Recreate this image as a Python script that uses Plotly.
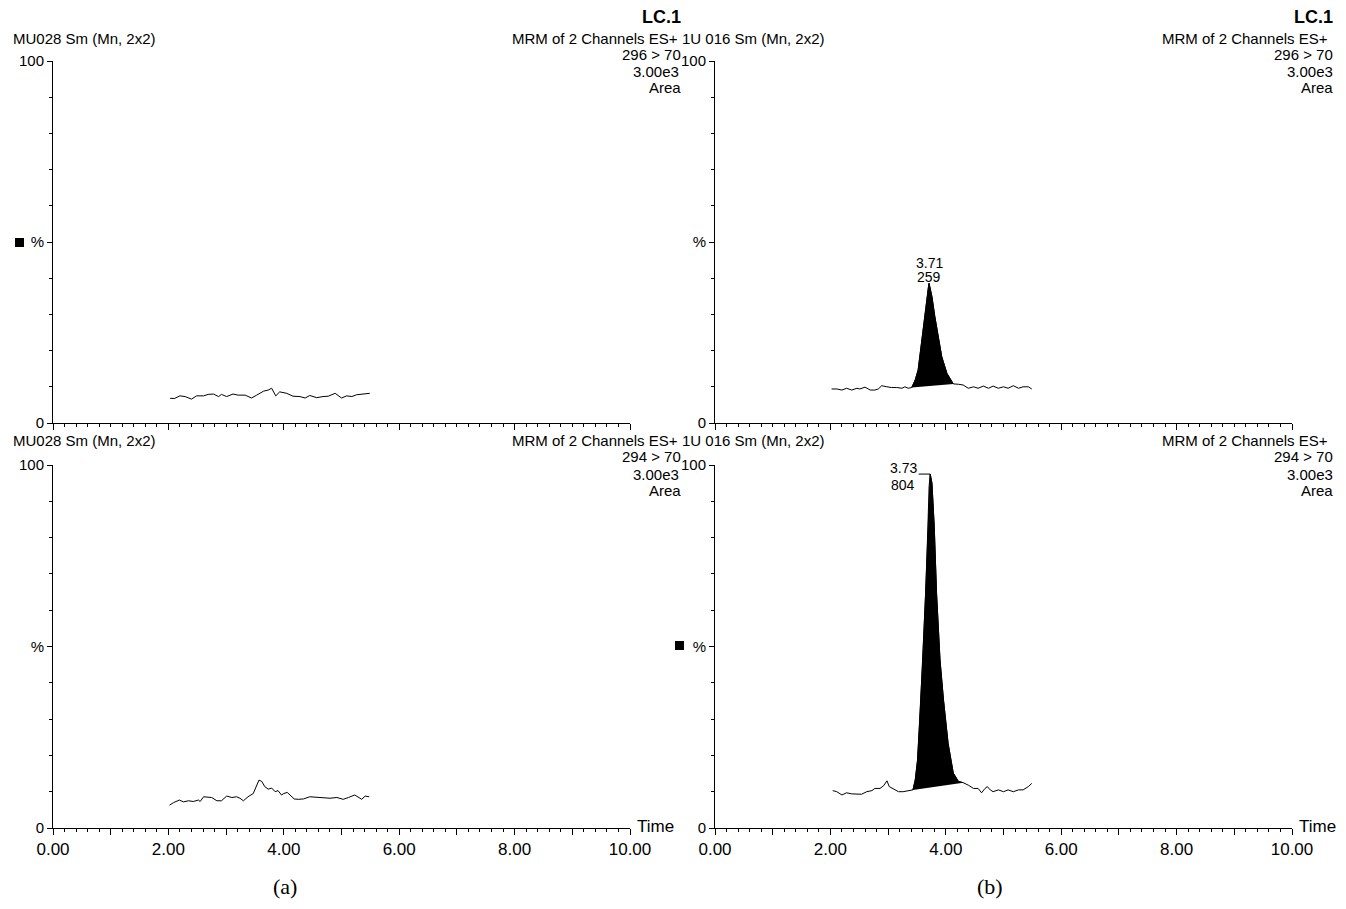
import plotly.graph_objects as go

# the page body adds an 8px margin; the figure is sized so the page does not overflow
OFF = 8
W, H = 1346 - OFF, 909 - 2 * OFF

# ---------------- data ----------------
# (a) top: MU028, 296 > 70
a_top_t = [2.03, 2.11, 2.20, 2.29, 2.40, 2.49, 2.61, 2.69, 2.78, 2.87, 2.92, 3.01, 3.12, 3.21,
           3.33, 3.44, 3.53, 3.65, 3.73, 3.79, 3.86, 3.93, 4.05, 4.16, 4.28, 4.37, 4.45, 4.57,
           4.68, 4.77, 4.89, 5.00, 5.09, 5.18, 5.26, 5.38, 5.49]
a_top_v = [6.8, 6.8, 7.5, 7.3, 6.6, 7.5, 7.5, 7.9, 8.0, 7.3, 7.9, 7.3, 8.0, 7.7,
           7.7, 6.9, 7.7, 8.8, 9.1, 9.6, 7.5, 8.6, 8.2, 7.4, 7.3, 6.9, 7.6, 7.0,
           7.3, 7.4, 8.2, 6.9, 7.5, 7.3, 7.8, 7.9, 8.2]

# (a) bottom: MU028, 294 > 70
a_bot_t = [2.02, 2.09, 2.19, 2.26, 2.35, 2.43, 2.52, 2.55, 2.61, 2.69, 2.75, 2.84, 2.92, 3.01,
           3.10, 3.18, 3.24, 3.30, 3.38, 3.47, 3.53, 3.57, 3.62, 3.67, 3.73, 3.79, 3.85, 3.90,
           3.96, 4.00, 4.06, 4.11, 4.18, 4.25, 4.34, 4.45, 4.57, 4.68, 4.80, 4.92, 5.03, 5.12,
           5.23, 5.32, 5.35, 5.41, 5.48]
a_bot_v = [6.3, 7.0, 7.7, 7.2, 7.5, 7.3, 7.7, 7.3, 8.6, 8.6, 8.4, 7.5, 7.5, 8.8,
           8.4, 8.6, 8.2, 7.5, 8.6, 9.5, 11.8, 13.2, 12.8, 11.4, 10.7, 11.0, 10.0, 10.3,
           9.1, 9.5, 9.8, 9.1, 8.0, 7.9, 8.0, 8.6, 8.4, 8.4, 8.2, 8.4, 7.9, 8.4,
           9.1, 8.2, 7.9, 8.8, 8.6]

# (b) top: 1U 016, 296 > 70
b_top_t = [2.02, 2.11, 2.20, 2.28, 2.37, 2.46, 2.51, 2.60, 2.69, 2.77, 2.83, 2.89, 2.98, 3.06,
           3.15, 3.24, 3.29, 3.35, 3.41, 3.47, 3.52, 3.58, 3.64, 3.70, 3.71, 3.76, 3.81, 3.87,
           3.93, 4.02, 4.13, 4.22, 4.30, 4.39, 4.48, 4.56, 4.65, 4.74, 4.82, 4.91, 5.00, 5.08,
           5.17, 5.26, 5.34, 5.43, 5.49]
b_top_v = [9.4, 9.4, 9.1, 9.6, 9.1, 9.6, 9.4, 9.9, 9.1, 9.1, 9.4, 10.3, 10.0, 9.8,
           9.8, 9.6, 10.0, 9.6, 9.8, 11.9, 14.6, 22.9, 30.3, 37.7, 38.6, 34.9, 29.4, 23.8,
           18.3, 13.7, 10.8, 10.7, 10.5, 9.6, 10.0, 9.6, 10.2, 9.6, 10.2, 9.6, 10.0, 9.6,
           10.3, 9.6, 10.0, 10.0, 9.4]
b_top_peak = (3.41, 4.13)
b_top_label = ("3.71", "259")

# (b) bottom: 1U 016, 294 > 70
b_bot_t = [2.04, 2.11, 2.20, 2.28, 2.37, 2.46, 2.54, 2.63, 2.72, 2.77, 2.86, 2.92, 2.98, 3.02,
           3.09, 3.18, 3.26, 3.35, 3.43, 3.47, 3.51, 3.55, 3.60, 3.65, 3.69, 3.71, 3.73, 3.76,
           3.80, 3.84, 3.90, 3.96, 4.04, 4.13, 4.22, 4.30, 4.39, 4.48, 4.56, 4.62, 4.68, 4.72,
           4.77, 4.82, 4.91, 5.00, 5.08, 5.17, 5.26, 5.34, 5.43, 5.49]
b_bot_v = [10.3, 10.0, 9.1, 9.7, 9.4, 9.3, 9.3, 10.0, 10.3, 10.9, 10.9, 11.6, 13.0, 11.4,
           10.7, 10.0, 10.0, 10.3, 10.5, 13.2, 18.7, 29.8, 46.3, 64.6, 83.0, 94.0, 97.5, 95.0,
           83.0, 64.6, 46.3, 35.3, 23.3, 15.1, 12.8, 12.5, 11.8, 10.9, 10.9, 9.7, 10.9, 11.4,
           10.5, 10.0, 10.5, 10.0, 10.5, 10.0, 10.5, 10.5, 11.4, 12.3]
b_bot_peak = (3.43, 4.30)
b_bot_label = ("3.73", "804")

x_tick_vals = [0, 1, 2, 3, 4, 5, 6, 7, 8, 9, 10]
x_tick_text = ["0.00", "", "2.00", "", "4.00", "", "6.00", "", "8.00", "", "10.00"]
y_tick_vals = [0, 50, 100]
y_tick_text = ["0", "%", "100"]

# ---------------- figure ----------------
FONT = "Liberation Sans, Arial, sans-serif"
SERIF = "Liberation Serif, Times New Roman, serif"
fig = go.Figure()

def add_trace(t, v, ax, peak=None):
    xa, ya = ("x" + ax, "y" + ax) if ax != "1" else ("x", "y")
    if peak is not None:
        pt = [ti for ti in t if peak[0] <= ti <= peak[1]]
        pv = [vi for ti, vi in zip(t, v) if peak[0] <= ti <= peak[1]]
        fig.add_trace(go.Scatter(x=pt, y=pv, mode="lines", fill="toself",
                                 fillcolor="black", line=dict(color="black", width=1),
                                 xaxis=xa, yaxis=ya, hoverinfo="skip"))
    fig.add_trace(go.Scatter(x=t, y=v, mode="lines", line=dict(color="black", width=1),
                             xaxis=xa, yaxis=ya))

add_trace(a_top_t, a_top_v, "1")
add_trace(b_top_t, b_top_v, "2", b_top_peak)
add_trace(a_bot_t, a_bot_v, "3")
add_trace(b_bot_t, b_bot_v, "4", b_bot_peak)

def px(x):
    return (x - OFF) / W

def py(y):
    return 1 - (y - OFF) / H

xdom_l = [px(53), px(630)]
xdom_r = [px(715), px(1292)]
ydom_t = [py(423), py(61)]
ydom_b = [py(828), py(465)]

def xaxis(dom, anchor, labels):
    return dict(domain=dom, anchor=anchor, range=[0, 10], showline=True, linecolor="black",
                linewidth=1, showgrid=False, zeroline=False, automargin=False,
                ticks="outside", ticklen=6,
                tickwidth=1, tickcolor="black", tickmode="array", tickvals=x_tick_vals,
                ticktext=x_tick_text, showticklabels=labels,
                tickfont=dict(family=FONT, size=17, color="black"),
                minor=dict(ticks="outside", tickmode="linear", tick0=0, dtick=0.2, ticklen=3,
                           tickwidth=1, tickcolor="black", showgrid=False))

def yaxis(dom, anchor):
    return dict(domain=dom, anchor=anchor, range=[0, 100], showline=True, linecolor="black",
                linewidth=1, showgrid=False, zeroline=False, automargin=False,
                ticks="outside", ticklen=5,
                tickwidth=1, tickcolor="black", tickmode="array", tickvals=y_tick_vals,
                ticktext=y_tick_text, tickfont=dict(family=FONT, size=15, color="black"),
                minor=dict(ticks="outside", tickmode="linear", tick0=0, dtick=10, ticklen=3,
                           tickwidth=1, tickcolor="black", showgrid=False))

fig.update_layout(
    template="none",
    width=W, height=H, autosize=False, margin=dict(l=0, r=0, t=0, b=0, pad=0),
    paper_bgcolor="white", plot_bgcolor="white", showlegend=False,
    xaxis=xaxis(xdom_l, "y", False), yaxis=yaxis(ydom_t, "x"),
    xaxis2=xaxis(xdom_r, "y2", False), yaxis2=yaxis(ydom_t, "x2"),
    xaxis3=xaxis(xdom_l, "y3", True), yaxis3=yaxis(ydom_b, "x3"),
    xaxis4=xaxis(xdom_r, "y4", True), yaxis4=yaxis(ydom_b, "x4"),
    font=dict(family=FONT, size=15, color="black"),
)

ann = []

def txt(text, x, y, xanchor="left", size=15, bold=False, family=FONT):
    ann.append(dict(text=("<b>%s</b>" % text) if bold else text, x=px(x), y=py(y),
                    xref="paper", yref="paper", xanchor=xanchor, yanchor="middle",
                    showarrow=False, font=dict(family=family, size=size, color="black")))

# left column headers
txt("LC.1", 683, 17, "right", 18, True)
for (y0, trans) in [(38, "296 &gt; 70"), (441, "294 &gt; 70")]:
    txt("MU028 Sm (Mn, 2x2)", 11, y0)
    txt("MRM of 2 Channels ES+", 680, y0, "right")
    txt(trans, 683, y0 + 16, "right")
    txt("3.00e3", 681, y0 + 33, "right")
    txt("Area", 683, y0 + 49, "right")

# right column headers (kept inside the visible page width)
RX = 1335
txt("LC.1", RX, 17, "right", 18, True)
for (y0, trans) in [(38, "296 &gt; 70"), (441, "294 &gt; 70")]:
    txt("1U 016 Sm (Mn, 2x2)", 680, y0)
    txt("MRM of 2 Channels ES+", RX - 5, y0, "right")
    txt(trans, RX, y0 + 16, "right")
    txt("3.00e3", RX, y0 + 33, "right")
    txt("Area", RX, y0 + 49, "right")

# Time labels
txt("Time", 635, 826, size=17)
txt("Time", 1297, 826, size=17)

# panel labels
txt("(a)", 285, 886, "center", 22, family=SERIF)
txt("(b)", 990, 886, "center", 22, family=SERIF)

# peak labels
i_top = b_top_v.index(max(b_top_v))
for text, ys in [(b_top_label[0], 20), (b_top_label[1], 6)]:
    ann.append(dict(text=text, x=b_top_t[i_top], y=b_top_v[i_top], xref="x2", yref="y2",
                    xanchor="center", yanchor="middle", yshift=ys, showarrow=False,
                    font=dict(family=FONT, size=14, color="black")))
i_bot = b_bot_v.index(max(b_bot_v))
for text, ys in [(b_bot_label[0], 6), (b_bot_label[1], -11)]:
    ann.append(dict(text=text, x=b_bot_t[i_bot], y=b_bot_v[i_bot], xref="x4", yref="y4",
                    xanchor="center", yanchor="middle", xshift=-27, yshift=ys, showarrow=False,
                    font=dict(family=FONT, size=14, color="black")))
fig.update_layout(annotations=ann)

shapes = [
    dict(type="line", xref="x4", yref="y4", x0=b_bot_t[i_bot] - 0.2, x1=b_bot_t[i_bot],
         y0=b_bot_v[i_bot], y1=b_bot_v[i_bot], line=dict(color="black", width=1)),
    dict(type="rect", xref="paper", yref="paper", x0=px(15), x1=px(24), y0=py(247), y1=py(238),
         fillcolor="black", line=dict(width=0)),
    dict(type="rect", xref="paper", yref="paper", x0=px(675), x1=px(684), y0=py(650), y1=py(641),
         fillcolor="black", line=dict(width=0)),
]
fig.update_layout(shapes=shapes)

fig.write_html("out.html")
